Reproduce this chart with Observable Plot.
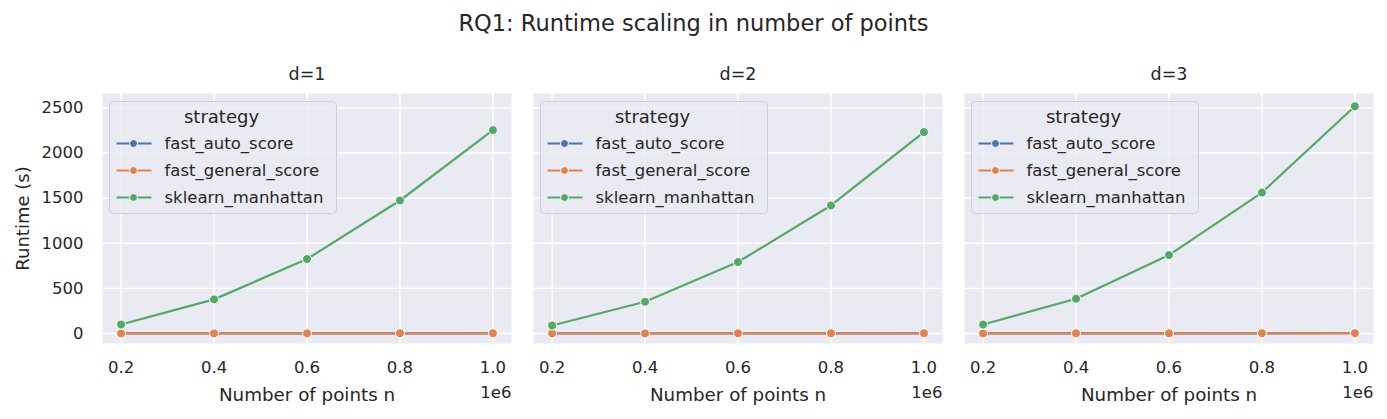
<!DOCTYPE html>
<html>
<head>
<meta charset="utf-8">
<script src="https://cdn.jsdelivr.net/npm/d3@7"></script>
<script src="https://cdn.jsdelivr.net/npm/@observablehq/plot@0.6"></script>
<style>
  html, body { margin: 0; padding: 0; background: white; }
  #title { width: 1387px; height: 33px; padding-top: 12px; line-height: 22px; font-size: 22.5px;
           font-family: "DejaVu Sans", sans-serif; color: #262626; text-align: center; }
  #chart svg { display: block; }
</style>
</head>
<body>
<div id="title">RQ1: Runtime scaling in number of points</div>
<div id="chart"></div>
<script>
const strategies = ["fast_auto_score", "fast_general_score", "sklearn_manhattan"];
const colors = ["#4C72B0", "#DD8452", "#55A868"];
const dims = [1, 2, 3];
const nPoints = [200000, 400000, 600000, 800000, 1000000];
const yTicks = [0, 500, 1000, 1500, 2000, 2500];

// runtime (s) per strategy, per d
const fastAutoD1 = [0.4, 0.8, 1.2, 1.6, 2.0];
const fastGeneralD1 = [0.5, 1.0, 1.5, 2.0, 2.5];
const sklearnD1 = [99, 378, 825, 1474, 2254];

const fastAutoD2 = [0.5, 0.9, 1.4, 1.8, 2.3];
const fastGeneralD2 = [0.6, 1.1, 1.7, 2.2, 2.8];
const sklearnD2 = [88, 352, 792, 1419, 2232];

const fastAutoD3 = [0.5, 1.0, 1.5, 2.0, 2.5];
const fastGeneralD3 = [0.7, 1.3, 1.9, 2.5, 3.1];
const sklearnD3 = [99, 385, 869, 1562, 2518];

const series = {
  1: [fastAutoD1, fastGeneralD1, sklearnD1],
  2: [fastAutoD2, fastGeneralD2, sklearnD2],
  3: [fastAutoD3, fastGeneralD3, sklearnD3]
};

const rows = [];
for (const d of dims) {
  strategies.forEach((s, si) => {
    nPoints.forEach((n, i) => rows.push({d, strategy: s, n, runtime: series[d][si][i]}));
  });
}

const textColor = "#262626";
const lineSymbol = {draw(ctx) { ctx.moveTo(-17.5, 0); ctx.lineTo(17.5, 0); }};

const seriesMarks = strategies.flatMap(s => {
  const data = rows.filter(r => r.strategy === s);
  return [
    Plot.line(data, {x: "n", y: "runtime", stroke: "strategy", fx: "d", strokeWidth: 2.2}),
    Plot.dot(data, {x: "n", y: "runtime", fill: "strategy", fx: "d", stroke: "white", strokeWidth: 1, r: 4.5})
  ];
});

const legendMarks = [
  Plot.frame({fill: "#EAEAF2", fillOpacity: 0.8, stroke: "#D0D0D4", rx: 4,
              insetLeft: 7, insetTop: 8, insetRight: 175, insetBottom: 130}),
  Plot.text(["strategy"], {frameAnchor: "top-left", dx: 119, dy: 23.5, text: d => d,
              textAnchor: "middle", lineAnchor: "middle", fontSize: 18, fill: textColor}),
  ...strategies.flatMap((s, i) => [
    Plot.dot([s], {frameAnchor: "top-left", dx: 31.5, dy: 50 + 27 * i, symbol: lineSymbol,
                   stroke: d => d, fill: "none", strokeWidth: 2.2}),
    Plot.dot([s], {frameAnchor: "top-left", dx: 31, dy: 50 + 27 * i, fill: d => d,
                   stroke: "white", strokeWidth: 1, r: 4}),
    Plot.text([s], {frameAnchor: "top-left", dx: 62, dy: 50 + 27 * i, text: d => d,
                    textAnchor: "start", lineAnchor: "middle", fontSize: 16.5, fill: textColor})
  ])
];

const chart = Plot.plot({
  width: 1387,
  height: 374,
  marginLeft: 102,
  marginRight: 14,
  marginTop: 48,
  marginBottom: 76,
  style: {fontFamily: "DejaVu Sans", color: textColor, background: "white", overflow: "visible"},
  fx: {domain: dims, paddingInner: 0.051, paddingOuter: 0, round: false},
  x: {domain: [160000, 1040000]},
  y: {domain: [-111, 2660]},
  color: {domain: strategies, range: colors},
  marks: [
    Plot.frame({fill: "#EAEAF2"}),
    Plot.gridX({ticks: nPoints, stroke: "white", strokeOpacity: 1, strokeWidth: 1.4}),
    Plot.gridY({ticks: yTicks, stroke: "white", strokeOpacity: 1, strokeWidth: 1.4}),
    Plot.axisFx({anchor: "top", tickSize: 0, tickPadding: 14, fontSize: 17.5, label: null,
                 tickFormat: d => `d=${d}`}),
    Plot.axisX({ticks: nPoints, tickFormat: d => (d / 1e6).toFixed(1), tickSize: 0, tickPadding: 18,
                fontSize: 16.5, label: null}),
    Plot.axisY({ticks: yTicks, tickFormat: d => String(d), tickSize: 0, tickPadding: 19,
                fontSize: 16.5, label: null}),
    Plot.text([{d: 1, label: "Runtime (s)"}], {fx: "d", frameAnchor: "left", dx: -79, rotate: -90,
               text: "label", fontSize: 18, fill: textColor, lineAnchor: "middle", textAnchor: "middle"}),
    Plot.text(["Number of points n"], {frameAnchor: "bottom", dy: 52, text: d => d,
               fontSize: 18.3, fill: textColor, lineAnchor: "middle"}),
    Plot.text(["1e6"], {frameAnchor: "bottom-right", dy: 49, text: d => d, textAnchor: "end",
               fontSize: 16.5, fill: textColor, lineAnchor: "middle"}),
    ...seriesMarks,
    ...legendMarks
  ]
});
document.getElementById("chart").appendChild(chart);
</script>
</body>
</html>
